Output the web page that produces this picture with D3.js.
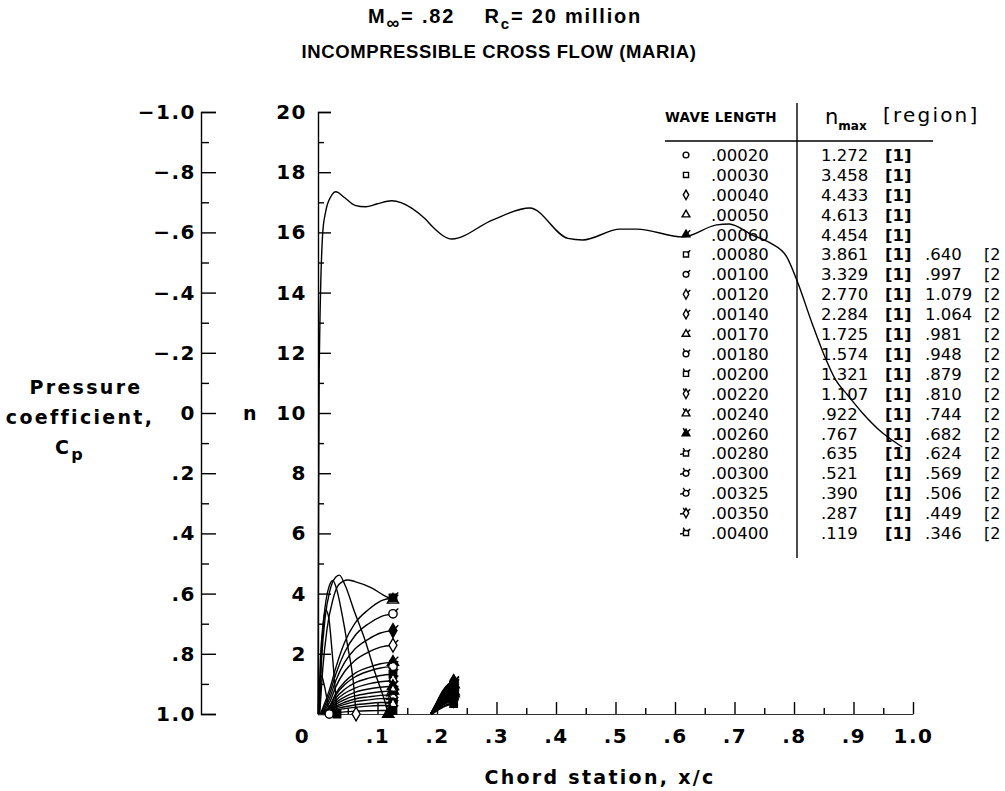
<!DOCTYPE html>
<html><head><meta charset="utf-8">
<script src="https://cdn.jsdelivr.net/npm/d3@7"></script>
<style>body{margin:0;background:#fff}svg{display:block}</style>
</head><body><svg id="c" width="1005" height="791"></svg>
<script>
// ---------------- data ----------------
const waveLengths = [".00020",".00030",".00040",".00050",".00060",".00080",".00100",".00120",".00140",".00170",".00180",".00200",".00220",".00240",".00260",".00280",".00300",".00325",".00350",".00400"];
const nMaxRegion1 = [1.272,3.458,4.433,4.613,4.454,3.861,3.329,2.770,2.284,1.725,1.574,1.321,1.107,.922,.767,.635,.521,.390,.287,.119];
const nMaxRegion2 = [null,null,null,null,null,.640,.997,1.079,1.064,.981,.948,.879,.810,.744,.682,.624,.569,.506,.449,.346];

const cpTicks = [-1,-.8,-.6,-.4,-.2,0,.2,.4,.6,.8,1];
const cpMinorTicks = [-.9,-.7,-.5,-.3,-.1,.1,.3,.5,.7,.9];
const nTicks = [2,4,6,8,10,12,14,16,18,20];
const nMinorTicks = [1,3,5,7,9,11,13,15,17,19];
const xTicks = [0,.1,.2,.3,.4,.5,.6,.7,.8,.9,1];
const xMinorTicks = [.05,.15,.25,.35,.45,.55,.65,.75,.85,.95];
const xTickLabels = ["0",".1",".2",".3",".4",".5",".6",".7",".8",".9","1.0"];
const cpTickLabels = ["\u22121.0","\u2212.8","\u2212.6","\u2212.4","\u2212.2","0",".2",".4",".6",".8","1.0"];

// pressure distribution (x/c, Cp)
const cpX  = [0,0.001,0.002,0.008,0.013,0.022,0.030,0.045,0.062,0.080,0.100,0.124,0.158,0.180,0.193,0.225,0.293,0.356,0.420,0.445,0.508,0.536,0.613,0.670,0.691,0.730,0.760,0.788,0.805,0.830,0.852,0.870,0.890,0.915,0.945,0.982];
const cpVal= [1.00,0.30,-0.14,-0.60,-0.67,-0.72,-0.735,-0.715,-0.69,-0.685,-0.695,-0.705,-0.68,-0.645,-0.618,-0.578,-0.641,-0.681,-0.58,-0.575,-0.611,-0.611,-0.585,-0.625,-0.628,-0.591,-0.565,-0.518,-0.44,-0.30,-0.186,-0.11,-0.06,0.0,0.06,0.113];

// region 1 amplification curves, one per wave length (x/c and n)
const region1X = [
 [0.001,0.003,0.006,0.010,0.015,0.019],
 [0.001,0.004,0.008,0.013,0.018,0.024,0.029,0.032],
 [0.002,0.005,0.010,0.018,0.025,0.032,0.040,0.050,0.059,0.064],
 [0.002,0.006,0.012,0.020,0.030,0.036,0.045,0.062,0.079,0.096,0.113,0.118],
 [0.003,0.008,0.015,0.025,0.035,0.050,0.062,0.090,0.110,0.126],
 [0.004,0.020,0.030,0.045,0.062,0.085,0.105,0.126],
 [0.005,0.020,0.030,0.045,0.062,0.085,0.105,0.126],
 [0.006,0.020,0.030,0.045,0.062,0.085,0.105,0.126],
 [0.007,0.020,0.030,0.045,0.062,0.085,0.105,0.126],
 [0.008,0.020,0.030,0.045,0.062,0.085,0.105,0.126],
 [0.008,0.020,0.030,0.045,0.062,0.085,0.105,0.126],
 [0.009,0.020,0.030,0.045,0.062,0.085,0.105,0.126],
 [0.010,0.020,0.030,0.045,0.062,0.085,0.105,0.126],
 [0.011,0.020,0.030,0.045,0.062,0.085,0.105,0.126],
 [0.012,0.020,0.030,0.045,0.062,0.085,0.105,0.126],
 [0.013,0.020,0.030,0.045,0.062,0.085,0.105,0.126],
 [0.014,0.020,0.030,0.045,0.062,0.085,0.105,0.126],
 [0.016,0.020,0.030,0.045,0.062,0.085,0.105,0.126],
 [0.018,0.022,0.030,0.045,0.062,0.085,0.105,0.126],
 [0.022,0.030,0.045,0.062,0.085,0.105,0.126]
];
const region1N = [
 [0,0.8,1.272,1.0,0.5,0],
 [0,1.8,2.9,3.458,3.2,2.0,0.8,0],
 [0,1.8,3.2,4.2,4.433,4.1,3.36,2.24,1.13,0],
 [0,1.8,3.2,4.1,4.55,4.613,4.3,3.36,2.46,1.36,0.37,0],
 [0,1.5,2.8,3.8,4.3,4.454,4.4,4.19,3.95,3.79],
 [0,0.85,1.54,2.39,3.01,3.47,3.75,3.861],
 [0,0.70,1.33,2.06,2.60,3.00,3.23,3.329],
 [0,0.55,1.11,1.72,2.16,2.49,2.69,2.770],
 [0,0.41,0.91,1.42,1.78,2.06,2.22,2.284],
 [0,0.28,0.69,1.07,1.35,1.55,1.67,1.725],
 [0,0.25,0.63,0.98,1.23,1.42,1.53,1.574],
 [0,0.20,0.53,0.82,1.03,1.19,1.28,1.321],
 [0,0.15,0.44,0.69,0.86,1.00,1.07,1.107],
 [0,0.11,0.37,0.57,0.72,0.83,0.89,0.922],
 [0,0.08,0.31,0.48,0.60,0.69,0.74,0.767],
 [0,0.06,0.25,0.39,0.50,0.57,0.62,0.635],
 [0,0.04,0.21,0.32,0.41,0.47,0.51,0.521],
 [0,0.02,0.16,0.24,0.30,0.35,0.38,0.390],
 [0,0.01,0.11,0.18,0.22,0.26,0.28,0.287],
 [0,0.03,0.07,0.09,0.107,0.115,0.119]
];
// region 2 amplification curves (wave lengths .00080 - .00400)
const region2X = [0.190,0.200,0.210,0.220,0.228];
const region2N = [
 null,null,null,null,null,
 [0,0.22,0.45,0.59,0.640],
 [0,0.35,0.70,0.92,0.997],
 [0,0.38,0.76,0.99,1.079],
 [0,0.37,0.74,0.98,1.064],
 [0,0.34,0.69,0.90,0.981],
 [0,0.33,0.66,0.87,0.948],
 [0,0.31,0.62,0.81,0.879],
 [0,0.28,0.57,0.75,0.810],
 [0,0.26,0.52,0.68,0.744],
 [0,0.24,0.48,0.63,0.682],
 [0,0.22,0.44,0.57,0.624],
 [0,0.20,0.40,0.52,0.569],
 [0,0.18,0.35,0.47,0.506],
 [0,0.16,0.31,0.41,0.449],
 [0,0.12,0.24,0.32,0.346]
];

// ---------------- styles ----------------
const symbolKind = [0,1,2,3,3,1,0,2,2,3,0,1,2,3,3,1,0,0,2,1];
const flagCount  = [0,0,0,0,1,1,1,1,1,1,2,2,2,2,2,3,3,3,3,3];
const FONT = "'DejaVu Sans', Verdana, sans-serif";
const FONT2 = "'Liberation Sans', Arial, sans-serif";

// ---------------- drawing ----------------
const svg = d3.select("#c");
const x = d3.scaleLinear().domain([0,1]).range([318,913]);
const yN = d3.scaleLinear().domain([0,20]).range([714,112]);
const yCp = d3.scaleLinear().domain([-1,1]).range([112,714]);
const symTypes = [d3.symbolCircle, d3.symbolSquare, d3.symbolDiamond, d3.symbolTriangle];

function drawSymbol(g, i, cx, cy, size, filled) {
  const s = g.append("g").attr("transform", `translate(${cx},${cy})`);
  s.append("path").attr("d", d3.symbol().type(symTypes[symbolKind[i]]).size(size)())
    .attr("fill", filled ? "#000" : "#fff").attr("stroke", "#000").attr("stroke-width", 1.4);
  const r = Math.sqrt(size) * 0.6;
  for (let k = 0; k < flagCount[i]; k++) {
    const a = -Math.PI / 4 - k * Math.PI / 2.5;
    s.append("line").attr("x1", r * 0.7 * Math.cos(a)).attr("y1", r * 0.7 * Math.sin(a))
      .attr("x2", (r + 3) * Math.cos(a)).attr("y2", (r + 3) * Math.sin(a))
      .attr("stroke", "#000").attr("stroke-width", 1.4);
  }
}

// Title
const t1 = svg.append("text").attr("x", 505).attr("y", 23).attr("text-anchor", "middle")
  .attr("font-family", FONT2).attr("font-weight", "bold").attr("font-size", 20).attr("letter-spacing", 1.8);
t1.append("tspan").text("M");
t1.append("tspan").attr("font-size", 18).attr("dy", 6).text("\u221E");
t1.append("tspan").attr("dy", -6).text("= .82\u00A0\u00A0\u00A0\u00A0R");
t1.append("tspan").attr("font-size", 15).attr("dy", 6).text("c");
t1.append("tspan").attr("dy", -6).text("= 20 million");
svg.append("text").attr("x", 499).attr("y", 58).attr("text-anchor", "middle")
  .attr("font-family", FONT2).attr("font-weight", "bold").attr("font-size", 18.5).attr("letter-spacing", 0.6)
  .text("INCOMPRESSIBLE CROSS FLOW (MARIA)");

// Cp axis
const gCp = svg.append("g").attr("transform", "translate(201,0)");
gCp.call(d3.axisRight(yCp).tickValues(cpTicks).tickSize(15).tickSizeOuter(15)
  .tickFormat((d, i) => cpTickLabels[i]));
gCp.selectAll(".tick text").attr("x", -5).attr("text-anchor", "end");
const gCpMin = svg.append("g").attr("transform", "translate(201,0)");
gCpMin.call(d3.axisRight(yCp).tickValues(cpMinorTicks).tickSize(8).tickFormat(""));
gCpMin.select(".domain").remove();

// n axis
const gN = svg.append("g").attr("transform", "translate(318,0)");
gN.call(d3.axisRight(yN).tickValues(nTicks).tickSize(13).tickSizeOuter(13));
gN.selectAll(".tick text").attr("x", -11).attr("text-anchor", "end");
const gNMin = svg.append("g").attr("transform", "translate(318,0)");
gNMin.call(d3.axisRight(yN).tickValues(nMinorTicks).tickSize(6).tickFormat(""));
gNMin.select(".domain").remove();

// x axis
const gX = svg.append("g").attr("transform", "translate(0,714)");
gX.call(d3.axisBottom(x).tickValues(xTicks).tickSize(-12).tickSizeOuter(0).tickPadding(15)
  .tickFormat((d, i) => xTickLabels[i]));
gX.selectAll(".tick text").filter(d => d === 0).attr("x", -16);
const gXMin = svg.append("g").attr("transform", "translate(0,714)");
gXMin.call(d3.axisBottom(x).tickValues(xMinorTicks).tickSize(-6).tickFormat(""));
gXMin.select(".domain").remove();

[gCp, gN, gX].forEach(g => {
  g.selectAll("text").attr("font-family", FONT).attr("font-weight", "bold").attr("font-size", 20)
    .attr("fill", "#000").attr("letter-spacing", 1.5);
});
svg.selectAll(".domain, .tick line").attr("stroke", "#000").attr("stroke-width", 1.4);
gX.select(".domain").attr("stroke", "#333").attr("stroke-width", 1);

// axis titles
const lab = (txt, xx, yy, anchor) => svg.append("text").attr("x", xx).attr("y", yy)
  .attr("text-anchor", anchor || "middle").attr("font-family", FONT).attr("font-weight", "bold")
  .attr("font-size", 19).attr("letter-spacing", 2.3).text(txt);
lab("Pressure", 86, 394);
lab("coefficient,", 80, 424);
const cpl = lab("C", 70, 454);
cpl.append("tspan").attr("font-size", 16).attr("dy", 6).text("p");
lab("n", 251, 420);
lab("Chord station, x/c", 600, 784);

// Cp curve
const cpLine = d3.line().x((d, i) => x(cpX[i])).y(d => yCp(d)).curve(d3.curveMonotoneX);
svg.append("path").attr("d", cpLine(cpVal)).attr("fill", "none").attr("stroke", "#000").attr("stroke-width", 1.4);

// region 1 curves
const curveG = svg.append("g");
region1N.forEach((ns, i) => {
  const xs = region1X[i];
  const ln = d3.line().x((d, j) => x(xs[j])).y(d => yN(d)).curve(d3.curveMonotoneX);
  curveG.append("path").attr("d", ln(ns)).attr("fill", "none").attr("stroke", "#000").attr("stroke-width", 1.4);
});
region2N.forEach((ns, i) => {
  if (!ns) return;
  const ln = d3.line().x((d, j) => x(region2X[j])).y(d => yN(d)).curve(d3.curveMonotoneX);
  curveG.append("path").attr("d", ln(ns)).attr("fill", "none").attr("stroke", "#000").attr("stroke-width", 2.2);
});
// markers at curve ends
region1N.forEach((ns, i) => {
  const xs = region1X[i];
  drawSymbol(curveG, i, x(xs[xs.length - 1]), yN(ns[ns.length - 1]), 55, i % 2 === 1);
});
region2N.forEach((ns, i) => {
  if (!ns) return;
  drawSymbol(curveG, i, x(region2X[region2X.length - 1]), yN(ns[ns.length - 1]), 55, true);
});

// table
const tbl = svg.append("g").attr("font-family", FONT);
tbl.append("text").attr("x", 665).attr("y", 122).attr("font-weight", "bold").attr("font-size", 13.5)
  .attr("letter-spacing", 0.3).text("WAVE LENGTH");
const nm = tbl.append("text").attr("x", 825).attr("y", 124).attr("font-size", 21);
nm.append("tspan").text("n");
nm.append("tspan").attr("font-size", 12).attr("font-weight", "bold").attr("dy", 6).text("max");
tbl.append("text").attr("x", 883).attr("y", 122).attr("font-size", 20).attr("letter-spacing", 2.2).text("[region]");
tbl.append("line").attr("x1", 665).attr("x2", 933).attr("y1", 141).attr("y2", 141).attr("stroke", "#000").attr("stroke-width", 1.4);
tbl.append("line").attr("x1", 797).attr("x2", 797).attr("y1", 103).attr("y2", 558).attr("stroke", "#000").attr("stroke-width", 1.4);
const fmt = v => { const s = v.toFixed(3); return v < 1 ? s.slice(1) : s; };
const rowY = d3.scaleLinear().domain([0, 19]).range([155, 533]);
waveLengths.forEach((w, i) => {
  const yy = rowY(i);
  drawSymbol(tbl, i, 686, yy, 26, i === 4 || i === 14);
  tbl.append("text").attr("x", 711).attr("y", yy + 6).attr("font-size", 16.5).text(w);
  tbl.append("text").attr("x", 821).attr("y", yy + 6).attr("font-size", 16.5).text(fmt(nMaxRegion1[i]));
  tbl.append("text").attr("x", 885).attr("y", yy + 6).attr("font-size", 16.5).attr("font-weight", "bold").text("[1]");
  if (nMaxRegion2[i] != null) {
    tbl.append("text").attr("x", 925).attr("y", yy + 6).attr("font-size", 16.5).text(fmt(nMaxRegion2[i]));
    tbl.append("text").attr("x", 984).attr("y", yy + 6).attr("font-size", 16).text("[2");
  }
});
</script></body></html>
